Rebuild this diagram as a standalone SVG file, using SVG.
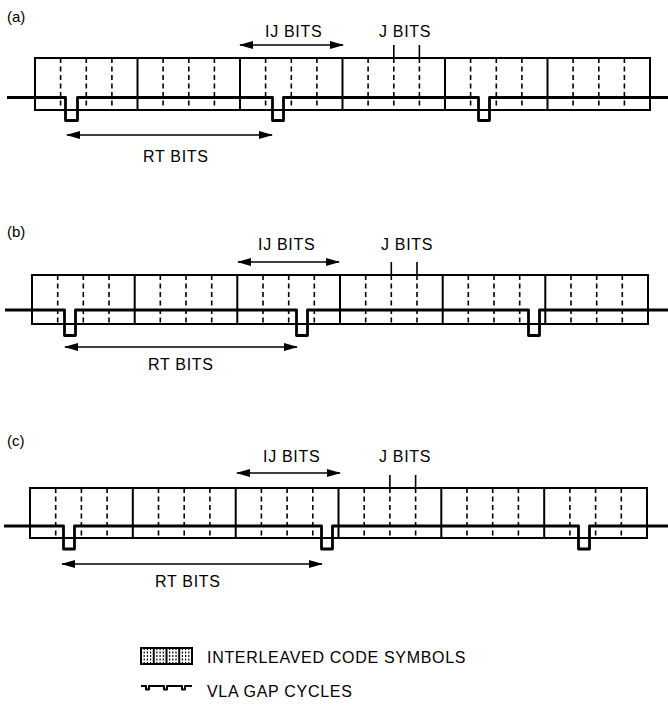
<svg xmlns="http://www.w3.org/2000/svg" width="668" height="708" viewBox="0 0 668 708">
<defs>
<style>
.box{fill:none;stroke:#000;stroke-width:2}
.div{stroke:#000;stroke-width:2;fill:none}
.dash{stroke:#000;stroke-width:1.6;stroke-dasharray:5 3.5;fill:none}
.wave{fill:none;stroke:#000;stroke-width:2.8;stroke-linejoin:round}
.arr{stroke:#000;stroke-width:1.6;fill:none;marker-start:url(#ah);marker-end:url(#ah)}
.tick{stroke:#000;stroke-width:1.6}
text{font-family:"Liberation Sans",Arial,sans-serif;font-size:16px;letter-spacing:0.7px;fill:#000}
.lab{font-size:15px;letter-spacing:0}
</style>
<marker id="ah" viewBox="0 0 14 8" refX="13" refY="4" markerWidth="14" markerHeight="8" markerUnits="userSpaceOnUse" orient="auto-start-reverse">
<path d="M0 0L14 4L0 8z" fill="#000"/>
</marker>
</defs>
<rect width="668" height="708" fill="#fff"/>

<g id="panel-a">
<text class="lab" x="7" y="22">(a)</text>
<path class="dash" d="M60.6 58V110M86.3 58V110M111.9 58V110M163.1 58V110M188.8 58V110M214.4 58V110M265.6 58V110M291.3 58V110M316.9 58V110M368.1 58V110M393.8 58V110M419.4 58V110M470.6 58V110M496.3 58V110M521.9 58V110M573.1 58V110M598.8 58V110M624.4 58V110"/>
<rect class="box" x="35" y="58" width="615" height="52"/>
<path class="div" d="M137.5 58V110M240 58V110M342.5 58V110M445 58V110M547.5 58V110"/>
<path class="wave" d="M7 97.5H65.5V120.5H77.5V97.5H272.5V120.5H283.5V97.5H478.5V120.5H489.5V97.5H668"/>
<path class="tick" d="M393.8 45V58M419.4 45V58"/>
<text x="265" y="37">IJ BITS</text>
<text x="379" y="37">J BITS</text>
<text x="143" y="162">RT BITS</text>
</g>

<g id="panel-b">
<text class="lab" x="7" y="237">(b)</text>
<path class="dash" d="M57.7 275V324M83.3 275V324M109 275V324M160.3 275V324M186 275V324M211.7 275V324M263 275V324M288.7 275V324M314.3 275V324M365.7 275V324M391.3 275V324M417 275V324M468.3 275V324M494 275V324M519.7 275V324M571 275V324M596.7 275V324M622.3 275V324"/>
<rect class="box" x="32" y="275" width="616" height="49"/>
<path class="div" d="M134.7 275V324M237.3 275V324M340 275V324M442.7 275V324M545.3 275V324"/>
<path class="wave" d="M5 310H64.5V335.5H75.5V310H296.5V335.5H307.5V310H528.5V335.5H539.5V310H668"/>
<path class="tick" d="M391.3 262V275M417 262V275"/>
<text x="258" y="250">IJ BITS</text>
<text x="381" y="250">J BITS</text>
<text x="148" y="370">RT BITS</text>
</g>

<g id="panel-c">
<text class="lab" x="7" y="446">(c)</text>
<path class="dash" d="M55.7 488V538M81.4 488V538M107.1 488V538M158.5 488V538M184.2 488V538M209.9 488V538M261.4 488V538M287.1 488V538M312.8 488V538M364.2 488V538M389.9 488V538M415.6 488V538M467 488V538M492.7 488V538M518.4 488V538M569.9 488V538M595.6 488V538M621.3 488V538"/>
<rect class="box" x="30" y="488" width="617" height="50"/>
<path class="div" d="M132.8 488V538M235.7 488V538M338.5 488V538M441.3 488V538M544.2 488V538"/>
<path class="wave" d="M4 526H63.5V549H74.5V526H321.5V549H332.5V526H578.5V549H589.5V526H668"/>
<path class="tick" d="M389.9 475V488M415.6 475V488"/>
<text x="263" y="462">IJ BITS</text>
<text x="379" y="462">J BITS</text>
<text x="155" y="587">RT BITS</text>
</g>

<g id="connectors">
<path class="arr" d="M240 45H343"/>
<path class="arr" d="M67 135H272"/>
<path class="arr" d="M238 262H339"/>
<path class="arr" d="M65 347H297"/>
<path class="arr" d="M237 473H340"/>
<path class="arr" d="M62 564H322"/>
</g>

<g id="legend-symbols">
<path class="dash" style="stroke-width:1.2;stroke-dasharray:2 1.5" d="M144.2 648V664M147.4 648V664M150.6 648V664M156.9 648V664M160.1 648V664M163.3 648V664M169.6 648V664M172.8 648V664M176 648V664M182.4 648V664M185.6 648V664M188.8 648V664"/>
<rect class="box" x="141" y="648" width="51" height="16"/>
<path class="div" d="M153.75 648V664M166.5 648V664M179.25 648V664"/>
<text x="207" y="663">INTERLEAVED CODE SYMBOLS</text>
</g>

<g id="legend-gap">
<path class="wave" style="stroke-width:2" d="M141 686H146V689.5H149V686H164V689.5H167V686H182V689.5H185V686H192"/>
<text x="207" y="697">VLA GAP CYCLES</text>
</g>
</svg>
